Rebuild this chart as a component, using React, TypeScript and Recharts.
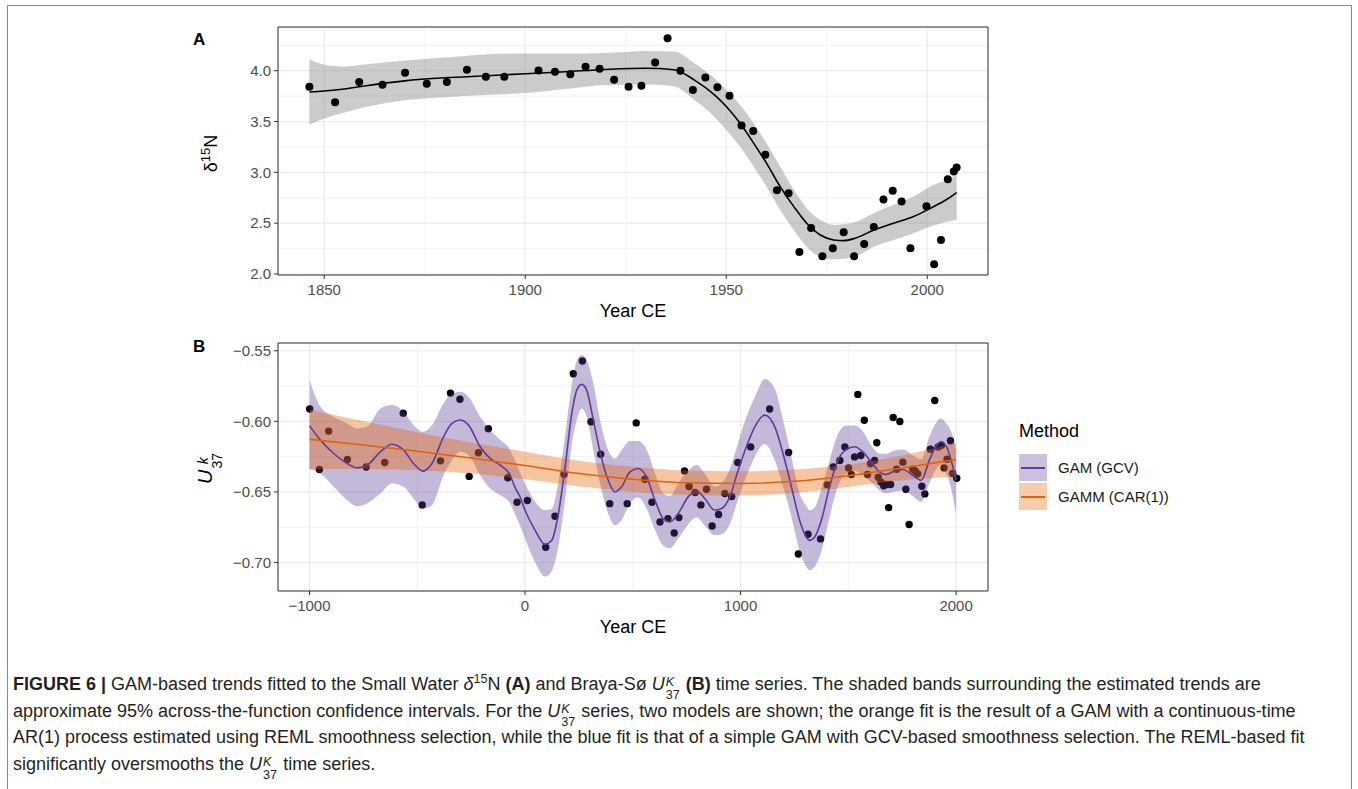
import React from 'react'
import {
  ComposedChart,
  Line,
  Area,
  Scatter,
  XAxis,
  YAxis,
  CartesianGrid,
  ReferenceArea,
} from 'recharts'

const FONT = '"Liberation Sans", Arial, Helvetica, sans-serif'
const GRID = '#ebebeb'
const INK = '#333333'
const TICK_TEXT = '#4d4d4d'
const PURPLE = '#5e3c99'
const ORANGE = '#e66101'

// Small Water δ15N observations
const swYear = [
  1846.3, 1852.7, 1858.7, 1864.5, 1870.1, 1875.5, 1880.5, 1885.5, 1890.2, 1894.8,
  1903.3, 1907.4, 1911.2, 1915, 1918.5, 1922.1, 1925.7, 1928.9, 1932.3, 1935.4,
  1938.6, 1941.7, 1944.8, 1947.8, 1950.8, 1953.8, 1956.7, 1959.7, 1962.6, 1965.5,
  1968.2, 1971.1, 1973.9, 1976.5, 1979.2, 1981.8, 1984.3, 1986.7, 1989.1, 1991.4,
  1993.6, 1995.8, 1999.8, 2001.7, 2003.4, 2005.1, 2006.6, 2007.3,
]
const swD15N = [
  3.842, 3.69, 3.89, 3.862, 3.98, 3.872, 3.89, 4.01, 3.94, 3.94,
  4.003, 3.99, 3.964, 4.04, 4.02, 3.91, 3.842, 3.852, 4.08, 4.32,
  4.0, 3.81, 3.934, 3.836, 3.754, 3.461, 3.406, 3.172, 2.824, 2.794,
  2.217, 2.453, 2.174, 2.253, 2.41, 2.174, 2.296, 2.463, 2.732, 2.82,
  2.712, 2.253, 2.667, 2.096, 2.335, 2.933, 3.008, 3.048,
]

// fitted GAM trend and its confidence band
const swFitYear = [
  1846.3, 1850, 1855, 1860, 1870, 1880, 1890, 1900, 1910, 1920,
  1930, 1937, 1942, 1947, 1950, 1953.4, 1956.8, 1960, 1963.4, 1966.8,
  1970, 1973.4, 1976.7, 1979.2, 1982, 1986.7, 1991.6, 1996.6, 2000.8, 2004.9, 2007.3,
]
const swFit = [
  3.79, 3.80, 3.82, 3.85, 3.90, 3.93, 3.95, 3.97, 3.99, 4.012,
  4.024, 4.01, 3.91, 3.764, 3.648, 3.485, 3.288, 3.09, 2.86, 2.663,
  2.499, 2.384, 2.335, 2.328, 2.351, 2.433, 2.499, 2.565, 2.647, 2.735, 2.8,
]
const swLo = [
  3.47, 3.53, 3.59, 3.64, 3.71, 3.74, 3.76, 3.78, 3.82, 3.86,
  3.865, 3.846, 3.714, 3.55, 3.419, 3.254, 3.057, 2.86, 2.63, 2.433,
  2.269, 2.17, 2.145, 2.15, 2.17, 2.269, 2.335, 2.401, 2.466, 2.515, 2.532,
]
const swHi = [
  4.11, 4.06, 4.04, 4.06, 4.10, 4.13, 4.16, 4.17, 4.17, 4.175,
  4.195, 4.19, 4.076, 3.928, 3.813, 3.665, 3.484, 3.287, 3.057, 2.828,
  2.647, 2.532, 2.483, 2.49, 2.51, 2.598, 2.68, 2.762, 2.86, 2.926, 2.975,
]

// Braya-Sø UK'37 observations
const bsYear = [
  -999, -954, -911, -824, -737, -651, -565, -477, -392, -346,
  -302, -259, -216, -170, -80, -37, 11, 96, 139, 181,
  224, 266, 306, 351, 393, 474, 516, 556, 589, 626,
  663, 692, 714, 740, 761, 789, 816, 842, 868, 898,
  927, 959, 987, 1047, 1135, 1223, 1268, 1313, 1371, 1402,
  1430, 1461, 1484, 1501, 1514, 1529, 1544, 1558, 1574, 1589,
  1603, 1622, 1632, 1639, 1651, 1664, 1676, 1687, 1696, 1708,
  1724, 1739, 1753, 1767, 1782, 1799, 1811, 1822, 1841, 1855,
  1881, 1901, 1917, 1932, 1944, 1958, 1974, 1984, 2003,
]
const bsUk37 = [
  -0.5913, -0.6341, -0.6069, -0.627, -0.6323, -0.6292, -0.5942, -0.6592, -0.628, -0.58,
  -0.5843, -0.639, -0.6223, -0.6053, -0.64, -0.6573, -0.6561, -0.6892, -0.6672, -0.6375,
  -0.5663, -0.5573, -0.6003, -0.6233, -0.6583, -0.6583, -0.6011, -0.641, -0.6573, -0.6713,
  -0.6689, -0.6791, -0.6682, -0.6351, -0.6462, -0.6504, -0.6592, -0.6481, -0.6741, -0.666,
  -0.6511, -0.6533, -0.6292, -0.6181, -0.5913, -0.6221, -0.694, -0.68, -0.6833, -0.645,
  -0.6323, -0.6277, -0.6181, -0.633, -0.6377, -0.6252, -0.5809, -0.6242, -0.5992, -0.6377,
  -0.6301, -0.6277, -0.6152, -0.6396, -0.6429, -0.6457, -0.6448, -0.6611, -0.6448, -0.5972,
  -0.6339, -0.6001, -0.6289, -0.6481, -0.6731, -0.6339, -0.6353, -0.6372, -0.646, -0.6514,
  -0.6197, -0.5852, -0.6181, -0.6169, -0.633, -0.6268, -0.6138, -0.637, -0.6403,
]

// GAM (GCV) trend and band
const gamYear = [
  -999, -949, -887, -825, -779, -733, -671, -617, -563, -517,
  -473, -432, -378, -339, -301, -262, -208, -162, -115, -69,
  -46, -23, 0, 47, 93, 124, 155, 186, 217, 240,
  263, 286, 317, 348, 386, 417, 448, 487, 525, 564,
  603, 641, 672, 711, 757, 796, 834, 880, 912, 950,
  989, 1027, 1066, 1112, 1159, 1197, 1236, 1274, 1305, 1320,
  1344, 1375, 1413, 1452, 1491, 1529, 1567, 1606, 1644, 1676,
  1706, 1753, 1799, 1838, 1876, 1907, 1930, 1954, 1977, 2000,
]
const gamFit = [
  -0.6032, -0.6133, -0.6228, -0.6299, -0.633, -0.6311, -0.6216, -0.6162, -0.6204, -0.6299,
  -0.6353, -0.6299, -0.611, -0.6015, -0.5991, -0.6027, -0.618, -0.6263, -0.6311, -0.6382,
  -0.647, -0.6535, -0.663, -0.6772, -0.6871, -0.6843, -0.6653, -0.6323, -0.5944, -0.5779,
  -0.5738, -0.5779, -0.5991, -0.6216, -0.6417, -0.65, -0.6464, -0.6358, -0.6334, -0.6393,
  -0.6559, -0.6689, -0.6713, -0.6653, -0.6535, -0.6493, -0.6547, -0.663, -0.6618, -0.6535,
  -0.6346, -0.618, -0.6039, -0.5956, -0.6039, -0.6228, -0.6464, -0.67, -0.6819, -0.6843,
  -0.6819, -0.67, -0.6464, -0.6275, -0.6199, -0.618, -0.6216, -0.6287, -0.6358, -0.6377,
  -0.6358, -0.6341, -0.6382, -0.6417, -0.6275, -0.6176, -0.6145, -0.6176, -0.6275, -0.6417,
]
const gamLo = [
  -0.634, -0.637, -0.6464, -0.6559, -0.6601, -0.6582, -0.6511, -0.644, -0.6464, -0.6547,
  -0.6618, -0.6594, -0.6382, -0.6275, -0.6216, -0.624, -0.6382, -0.6476, -0.6523, -0.6582,
  -0.666, -0.674, -0.683, -0.7, -0.71, -0.706, -0.688, -0.655, -0.616, -0.599,
  -0.5909, -0.5968, -0.6204, -0.644, -0.6653, -0.6736, -0.67, -0.658, -0.654, -0.662,
  -0.677, -0.688, -0.69, -0.683, -0.673, -0.668, -0.674, -0.6807, -0.68, -0.673,
  -0.655, -0.639, -0.625, -0.616, -0.628, -0.646, -0.6678, -0.6917, -0.703, -0.7055,
  -0.703, -0.692, -0.6678, -0.646, -0.637, -0.635, -0.638, -0.643, -0.6488, -0.651,
  -0.65, -0.649, -0.653, -0.657, -0.644, -0.634, -0.631, -0.637, -0.648, -0.666,
]
const gamHi = [
  -0.571, -0.5897, -0.5968, -0.6015, -0.605, -0.6039, -0.5909, -0.5885, -0.5932, -0.6027,
  -0.6074, -0.6027, -0.5873, -0.5802, -0.5791, -0.5826, -0.5968, -0.6062, -0.6133, -0.6204,
  -0.628, -0.636, -0.644, -0.657, -0.663, -0.662, -0.643, -0.61, -0.574, -0.557,
  -0.553, -0.5566, -0.5731, -0.5991, -0.6204, -0.6263, -0.6204, -0.614, -0.614, -0.62,
  -0.637, -0.651, -0.653, -0.644, -0.635, -0.631, -0.637, -0.6464, -0.644, -0.634,
  -0.615, -0.597, -0.583, -0.57, -0.577, -0.599, -0.6252, -0.6511, -0.66, -0.663,
  -0.661, -0.648, -0.6275, -0.609, -0.603, -0.603, -0.607, -0.617, -0.6228, -0.623,
  -0.621, -0.62, -0.624, -0.627, -0.611, -0.601, -0.598, -0.6015, -0.607, -0.621,
]

// GAMM (CAR(1)) trend and band
const gammYear = [-1000, -750, -500, -250, 0, 250, 500, 750, 1000, 1250, 1500, 1750, 2000]
const gammFit = [-0.6128, -0.6168, -0.6212, -0.626, -0.6313, -0.637, -0.641, -0.6435, -0.644, -0.6425, -0.6385, -0.633, -0.627]
const gammLo = [-0.6338, -0.6338, -0.6347, -0.637, -0.6411, -0.646, -0.6498, -0.6521, -0.6526, -0.6508, -0.6465, -0.6418, -0.639]
const gammHi = [-0.5918, -0.5998, -0.6077, -0.615, -0.6215, -0.628, -0.6322, -0.6349, -0.6354, -0.6342, -0.6305, -0.6242, -0.615]

const xTicksA = [1850, 1900, 1950, 2000]
const xMinorA = [1875, 1925, 1975]
const yTicksA = [2, 2.5, 3, 3.5, 4]
const yMinorA = [2.25, 2.75, 3.25, 3.75, 4.25]
const xTicksB = [-1000, 0, 1000, 2000]
const xMinorB = [-500, 500, 1500]
const yTicksB = [-0.7, -0.65, -0.6, -0.55]
const yMinorB = [-0.675, -0.625, -0.575]

const xDomainA: [number, number] = [1838.5, 2015.1]
const yDomainA: [number, number] = [1.99, 4.43]
const xDomainB: [number, number] = [-1146, 2148]
const yDomainB: [number, number] = [-0.7202, -0.5445]

const points = (xs: number[], ys: number[]) => xs.map((x, i) => ({ x, y: ys[i] }))
const band = (xs: number[], lo: number[], hi: number[]) =>
  xs.map((x, i) => ({ x, range: [lo[i], hi[i]] }))

const swPoints = points(swYear, swD15N)
const swLine = points(swFitYear, swFit)
const swBand = band(swFitYear, swLo, swHi)
const bsPoints = points(bsYear, bsUk37)
const gamLine = points(gamYear, gamFit)
const gamBand = band(gamYear, gamLo, gamHi)
const gammLine = points(gammYear, gammFit)
const gammBand = band(gammYear, gammLo, gammHi)

const minus = (s: string) => s.replace('-', '\u2212')
const tickStyle = { fontSize: 15, fill: TICK_TEXT, fontFamily: FONT }

const dot = (r: number) => (p: any) => <circle cx={p.cx} cy={p.cy} r={r} fill="#000" />

// superscript stacked over subscript, e.g. the K / 37 of U K 37
function Stack({ sup, sub }: { sup: string; sub: string }) {
  return (
    <span
      style={{
        display: 'inline-flex',
        flexDirection: 'column',
        verticalAlign: '0.3em',
        fontSize: '0.7em',
        lineHeight: 1,
        marginLeft: 1,
        marginRight: 1,
      }}
    >
      <span style={{ fontStyle: 'italic' }}>{sup}</span>
      <span>{sub}</span>
    </span>
  )
}

const abs = (left: number, top: number, extra: React.CSSProperties = {}): React.CSSProperties => ({
  position: 'absolute',
  left,
  top,
  ...extra,
})

function PanelA() {
  return (
    <ComposedChart width={860} height={300} margin={{ top: 17, right: 22, left: 68, bottom: 5 }}>
      <CartesianGrid stroke={GRID} strokeWidth={1.2} />
      <CartesianGrid stroke={GRID} strokeWidth={0.6} verticalValues={xMinorA} horizontalValues={yMinorA} />
      <XAxis
        type="number"
        dataKey="x"
        domain={xDomainA}
        ticks={xTicksA}
        allowDataOverflow
        axisLine={false}
        tickSize={4}
        tickMargin={5}
        tickLine={{ stroke: INK }}
        tick={tickStyle}
        height={30}
      />
      <YAxis
        type="number"
        dataKey="y"
        domain={yDomainA}
        ticks={yTicksA}
        allowDataOverflow
        axisLine={false}
        tickSize={4}
        tickMargin={3}
        tickLine={{ stroke: INK }}
        tick={tickStyle}
        tickFormatter={(v: number) => v.toFixed(1)}
        width={60}
      />
      <Area data={swBand} dataKey="range" type="monotone" stroke="none" fill="#8c8c8c" fillOpacity={0.45} isAnimationActive={false} />
      <Line data={swLine} dataKey="y" type="monotone" stroke="#000" strokeWidth={1.6} dot={false} isAnimationActive={false} />
      <Scatter data={swPoints} dataKey="y" shape={dot(4)} isAnimationActive={false} />
      <ReferenceArea x1={xDomainA[0]} x2={xDomainA[1]} y1={yDomainA[0]} y2={yDomainA[1]} fill="none" stroke={INK} strokeWidth={1} ifOverflow="visible" zIndex={1000} />
    </ComposedChart>
  )
}

function PanelB() {
  return (
    <ComposedChart width={860} height={300} margin={{ top: 13, right: 22, left: 68, bottom: 9 }}>
      <CartesianGrid stroke={GRID} strokeWidth={1.2} />
      <CartesianGrid stroke={GRID} strokeWidth={0.6} verticalValues={xMinorB} horizontalValues={yMinorB} />
      <XAxis
        type="number"
        dataKey="x"
        domain={xDomainB}
        ticks={xTicksB}
        allowDataOverflow
        axisLine={false}
        tickSize={4}
        tickMargin={5}
        tickLine={{ stroke: INK }}
        tick={tickStyle}
        tickFormatter={(v: number) => minus(String(v))}
        height={30}
      />
      <YAxis
        type="number"
        dataKey="y"
        domain={yDomainB}
        ticks={yTicksB}
        allowDataOverflow
        axisLine={false}
        tickSize={4}
        tickMargin={3}
        tickLine={{ stroke: INK }}
        tick={tickStyle}
        tickFormatter={(v: number) => minus(v.toFixed(2))}
        width={60}
      />
      {/* points sit underneath the translucent ribbons */}
      <Scatter data={bsPoints} dataKey="y" shape={dot(3.7)} isAnimationActive={false} zIndex={50} />
      <Area data={gamBand} dataKey="range" type="monotone" stroke="none" fill={PURPLE} fillOpacity={0.36} isAnimationActive={false} />
      <Area data={gammBand} dataKey="range" type="monotone" stroke="none" fill={ORANGE} fillOpacity={0.36} isAnimationActive={false} />
      <Line data={gamLine} dataKey="y" type="monotone" stroke={PURPLE} strokeWidth={1.6} dot={false} isAnimationActive={false} />
      <Line data={gammLine} dataKey="y" type="monotone" stroke={ORANGE} strokeWidth={1.6} dot={false} isAnimationActive={false} />
      <ReferenceArea x1={xDomainB[0]} x2={xDomainB[1]} y1={yDomainB[0]} y2={yDomainB[1]} fill="none" stroke={INK} strokeWidth={1} ifOverflow="visible" zIndex={1000} />
    </ComposedChart>
  )
}

function LegendKey({ fill, stroke, label }: { fill: string; stroke: string; label: string }) {
  return (
    <div style={{ display: 'flex', alignItems: 'center', height: 29 }}>
      <div style={{ width: 28, height: 27, background: fill, position: 'relative' }}>
        <div style={{ position: 'absolute', left: 2, right: 2, top: 13, height: 1.6, background: stroke }} />
      </div>
      <span style={{ marginLeft: 11, fontSize: 15, color: '#1a1a1a' }}>{label}</span>
    </div>
  )
}

const captionLine: React.CSSProperties = {
  position: 'absolute',
  left: 13,
  fontSize: 18,
  lineHeight: '20px',
  whiteSpace: 'nowrap',
  color: '#231f20',
}

function UK37() {
  return (
    <>
      <i>U</i>
      <Stack sup="K" sub="37" />
    </>
  )
}

export default function App() {
  return (
    <div style={{ position: 'absolute', left: 0, top: 0, width: 1358, height: 789, background: '#fff', fontFamily: FONT, overflow: 'hidden' }}>
      <div style={abs(7, 5, { width: 1343, height: 800, borderTop: '1px solid #8a8a8a', borderLeft: '1px solid #8a8a8a', borderRight: '1px solid #8a8a8a' })} />

      <div style={abs(150, 10)}>
        <PanelA />
      </div>
      <div style={abs(150, 330)}>
        <PanelB />
      </div>

      {/* panel tags */}
      <div style={abs(193, 30, { fontWeight: 'bold', fontSize: 17, color: '#000' })}>A</div>
      <div style={abs(193, 337, { fontWeight: 'bold', fontSize: 17, color: '#000' })}>B</div>

      {/* axis titles */}
      <div style={abs(533, 301, { width: 200, textAlign: 'center', fontSize: 18, color: '#000' })}>Year CE</div>
      <div style={abs(533, 617, { width: 200, textAlign: 'center', fontSize: 18, color: '#000' })}>Year CE</div>
      <div style={abs(108, 140, { width: 200, textAlign: 'center', fontSize: 18, color: '#000', transform: 'rotate(-90deg)', lineHeight: '22px' })}>
        δ<sup style={{ fontSize: '0.72em' }}>15</sup>N
      </div>
      <div style={abs(108, 452, { width: 200, textAlign: 'center', fontSize: 20, color: '#000', transform: 'rotate(-90deg)', lineHeight: '26px' })}>
        <i>U</i>
        <Stack sup="k" sub="37" />
      </div>

      {/* legend */}
      <div style={abs(1019, 421, { fontSize: 18, color: '#000' })}>Method</div>
      <div style={abs(1019, 453)}>
        <LegendKey fill="rgba(94,60,153,0.32)" stroke={PURPLE} label="GAM (GCV)" />
        <LegendKey fill="rgba(230,97,1,0.32)" stroke={ORANGE} label="GAMM (CAR(1))" />
      </div>

      {/* caption */}
      <div style={{ ...captionLine, top: 674 }}>
        <b>FIGURE 6 |</b> GAM-based trends fitted to the Small Water <i>δ</i>
        <sup style={{ fontSize: '0.7em', lineHeight: 0 }}>15</sup>N <b>(A)</b> and Braya-Sø <UK37 /> <b>(B)</b> time series. The shaded bands surrounding the estimated trends are
      </div>
      <div style={{ ...captionLine, top: 701 }}>
        approximate 95% across-the-function confidence intervals. For the <UK37 /> series, two models are shown; the orange fit is the result of a GAM with a continuous-time
      </div>
      <div style={{ ...captionLine, top: 727 }}>
        AR(1) process estimated using REML smoothness selection, while the blue fit is that of a simple GAM with GCV-based smoothness selection. The REML-based fit
      </div>
      <div style={{ ...captionLine, top: 754 }}>
        significantly oversmooths the <UK37 /> time series.
      </div>
    </div>
  )
}
